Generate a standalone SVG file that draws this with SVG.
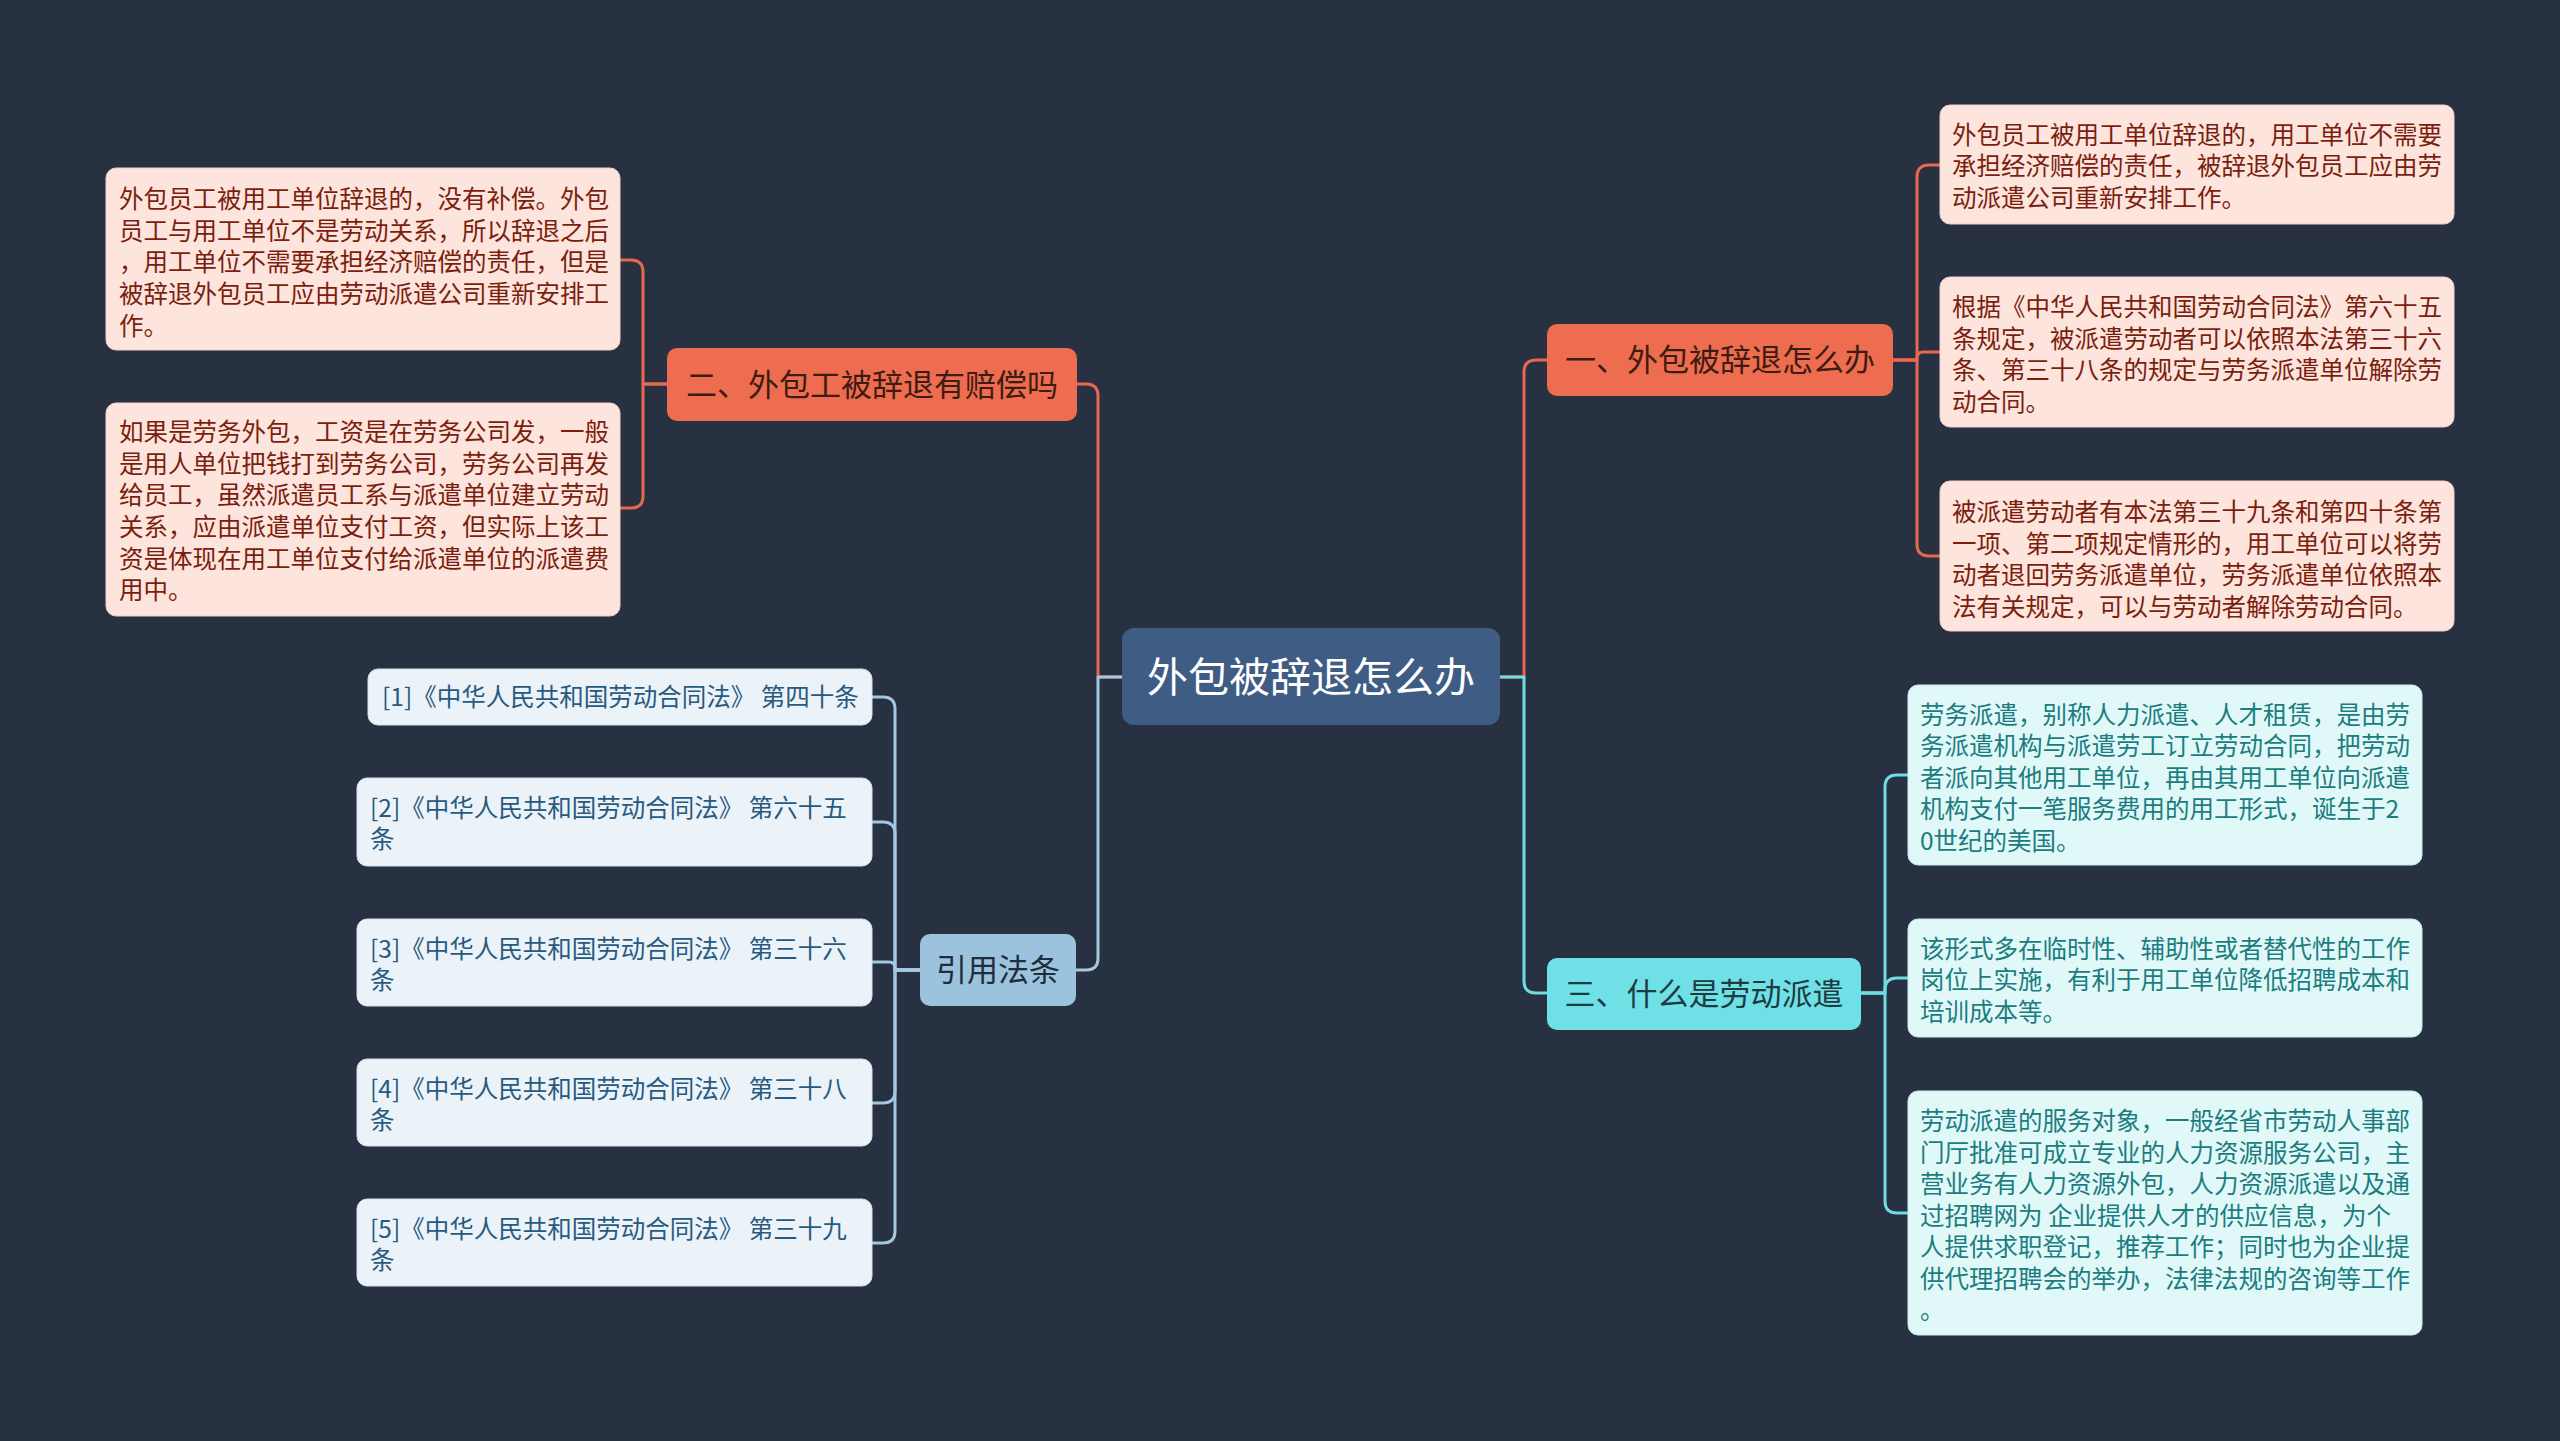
<svg xmlns="http://www.w3.org/2000/svg" width="2560" height="1441" viewBox="0 0 2560 1441">
<style>
text{font-family:"Noto Sans CJK SC","Noto Sans",sans-serif;}
.conn{fill:none;stroke-width:3;stroke-linejoin:round;}
.cr{stroke:#e8694e;}
.cc{stroke:#6ddce3;}
.cb{stroke:#a4c8e1;}
.rootbox{fill:#3f5d84;}
.roott{fill:#ffffff;font-size:41px;text-anchor:middle;}
.rnode{fill:#ee6c4f;}
.rnodet{fill:#3d1c12;font-size:31px;text-anchor:middle;}
.cnode{fill:#6ee0e6;}
.cnodet{fill:#1d3c42;font-size:31px;text-anchor:middle;}
.bnode{fill:#9cc3dd;}
.bnodet{fill:#1f2e3c;font-size:31px;text-anchor:middle;}
.rleaf{fill:#fde4dd;stroke:#f5cfc4;stroke-width:1;}
.rleaft{fill:#7b1e0e;font-size:24.5px;}
.cleaf{fill:#e1f8f8;stroke:#c6eeee;stroke-width:1;}
.cleaft{fill:#1b7d80;font-size:24.5px;}
.bleaf{fill:#ebf3f9;stroke:#d3e3ee;stroke-width:1;}
.bleaft{fill:#285a7f;font-size:24.5px;}
</style>
<rect x="0" y="0" width="2560" height="1441" fill="#283142"/>

<g id="connectors">
  <path class="conn cr" d="M1122,677 H1098 V396 Q1098,384 1086,384 H1077"/>
  <path class="conn cb" d="M1122,677 H1098 V958 Q1098,970 1086,970 H1076"/>
  <path class="conn cr" d="M1500,677 H1524 V372 Q1524,360 1536,360 H1547"/>
  <path class="conn cc" d="M1500,677 H1524 V981 Q1524,993 1536,993 H1547"/>
  <path class="conn cr" d="M667,384 H643 V272 Q643,260 631,260 H620"/>
  <path class="conn cr" d="M667,384 H643 V496 Q643,508 631,508 H620"/>
  <path class="conn cr" d="M1893,360 H1917 V177 Q1917,165 1929,165 H1940"/>
  <path class="conn cr" d="M1893,360 H1917 V358 Q1917,352 1923,352 H1940"/>
  <path class="conn cr" d="M1893,360 H1917 V544 Q1917,556 1929,556 H1940"/>
  <path class="conn cc" d="M1861,993 H1885 V787 Q1885,775 1897,775 H1908"/>
  <path class="conn cc" d="M1861,993 H1885 V990 Q1885,978 1897,978 H1908"/>
  <path class="conn cc" d="M1861,993 H1885 V1201 Q1885,1213 1897,1213 H1908"/>
  <path class="conn cb" d="M920,970 H895 V709 Q895,697 883,697 H872"/>
  <path class="conn cb" d="M920,970 H895 V834 Q895,822 883,822 H872"/>
  <path class="conn cb" d="M920,970 H895 V968 Q895,962 889,962 H872"/>
  <path class="conn cb" d="M920,970 H895 V1091 Q895,1103 883,1103 H872"/>
  <path class="conn cb" d="M920,970 H895 V1231 Q895,1243 883,1243 H872"/>
</g>

<g id="root">
  <rect class="rootbox" x="1122" y="628" width="378" height="97" rx="12"/>
  <text class="roott" x="1311" y="692">外包被辞退怎么办</text>
</g>

<g id="n2">
  <rect class="rnode" x="667" y="348" width="410" height="73" rx="10"/>
  <text class="rnodet" x="872" y="396">二、外包工被辞退有赔偿吗</text>
</g>
<g id="n1">
  <rect class="rnode" x="1547" y="324" width="346" height="72" rx="10"/>
  <text class="rnodet" x="1720" y="371">一、外包被辞退怎么办</text>
</g>
<g id="n3">
  <rect class="cnode" x="1547" y="958" width="314" height="72" rx="10"/>
  <text class="cnodet" x="1704" y="1005">三、什么是劳动派遣</text>
</g>
<g id="nref">
  <rect class="bnode" x="920" y="934" width="156" height="72" rx="10"/>
  <text class="bnodet" x="998" y="981">引用法条</text>
</g>

<g id="leaf2a">
  <rect class="rleaf" x="106" y="168" width="514" height="182" rx="10"/>
  <text class="rleaft" x="119" y="208">外包员工被用工单位辞退的，没有补偿。外包</text>
  <text class="rleaft" x="119" y="240">员工与用工单位不是劳动关系，所以辞退之后</text>
  <text class="rleaft" x="119" y="271">，用工单位不需要承担经济赔偿的责任，但是</text>
  <text class="rleaft" x="119" y="303">被辞退外包员工应由劳动派遣公司重新安排工</text>
  <text class="rleaft" x="119" y="335">作。</text>
</g>
<g id="leaf2b">
  <rect class="rleaf" x="106" y="403" width="514" height="213" rx="10"/>
  <text class="rleaft" x="119" y="441">如果是劳务外包，工资是在劳务公司发，一般</text>
  <text class="rleaft" x="119" y="473">是用人单位把钱打到劳务公司，劳务公司再发</text>
  <text class="rleaft" x="119" y="504">给员工，虽然派遣员工系与派遣单位建立劳动</text>
  <text class="rleaft" x="119" y="536">关系，应由派遣单位支付工资，但实际上该工</text>
  <text class="rleaft" x="119" y="568">资是体现在用工单位支付给派遣单位的派遣费</text>
  <text class="rleaft" x="119" y="599">用中。</text>
</g>

<g id="leaf1a">
  <rect class="rleaf" x="1940" y="105" width="514" height="119" rx="10"/>
  <text class="rleaft" x="1952" y="144">外包员工被用工单位辞退的，用工单位不需要</text>
  <text class="rleaft" x="1952" y="175">承担经济赔偿的责任，被辞退外包员工应由劳</text>
  <text class="rleaft" x="1952" y="207">动派遣公司重新安排工作。</text>
</g>
<g id="leaf1b">
  <rect class="rleaf" x="1940" y="277" width="514" height="150" rx="10"/>
  <text class="rleaft" x="1952" y="316">根据《中华人民共和国劳动合同法》第六十五</text>
  <text class="rleaft" x="1952" y="348">条规定，被派遣劳动者可以依照本法第三十六</text>
  <text class="rleaft" x="1952" y="379">条、第三十八条的规定与劳务派遣单位解除劳</text>
  <text class="rleaft" x="1952" y="411">动合同。</text>
</g>
<g id="leaf1c">
  <rect class="rleaf" x="1940" y="481" width="514" height="150" rx="10"/>
  <text class="rleaft" x="1952" y="521">被派遣劳动者有本法第三十九条和第四十条第</text>
  <text class="rleaft" x="1952" y="553">一项、第二项规定情形的，用工单位可以将劳</text>
  <text class="rleaft" x="1952" y="584">动者退回劳务派遣单位，劳务派遣单位依照本</text>
  <text class="rleaft" x="1952" y="616">法有关规定，可以与劳动者解除劳动合同。</text>
</g>

<g id="leaf3a">
  <rect class="cleaf" x="1908" y="685" width="514" height="180" rx="10"/>
  <text class="cleaft" x="1920" y="724">劳务派遣，别称人力派遣、人才租赁，是由劳</text>
  <text class="cleaft" x="1920" y="755">务派遣机构与派遣劳工订立劳动合同，把劳动</text>
  <text class="cleaft" x="1920" y="787">者派向其他用工单位，再由其用工单位向派遣</text>
  <text class="cleaft" x="1920" y="818">机构支付一笔服务费用的用工形式，诞生于2</text>
  <text class="cleaft" x="1920" y="850">0世纪的美国。</text>
</g>
<g id="leaf3b">
  <rect class="cleaf" x="1908" y="919" width="514" height="118" rx="10"/>
  <text class="cleaft" x="1920" y="958">该形式多在临时性、辅助性或者替代性的工作</text>
  <text class="cleaft" x="1920" y="989">岗位上实施，有利于用工单位降低招聘成本和</text>
  <text class="cleaft" x="1920" y="1021">培训成本等。</text>
</g>
<g id="leaf3c">
  <rect class="cleaf" x="1908" y="1091" width="514" height="244" rx="10"/>
  <text class="cleaft" x="1920" y="1130">劳动派遣的服务对象，一般经省市劳动人事部</text>
  <text class="cleaft" x="1920" y="1162">门厅批准可成立专业的人力资源服务公司，主</text>
  <text class="cleaft" x="1920" y="1193">营业务有人力资源外包，人力资源派遣以及通</text>
  <text class="cleaft" x="1920" y="1225">过招聘网为 企业提供人才的供应信息，为个</text>
  <text class="cleaft" x="1920" y="1256">人提供求职登记，推荐工作；同时也为企业提</text>
  <text class="cleaft" x="1920" y="1288">供代理招聘会的举办，法律法规的咨询等工作</text>
  <text class="cleaft" x="1920" y="1319">。</text>
</g>

<g id="ref1">
  <rect class="bleaf" x="368" y="669" width="504" height="56" rx="10"/>
  <text class="bleaft" x="382" y="706">[1]《中华人民共和国劳动合同法》 第四十条</text>
</g>
<g id="ref2">
  <rect class="bleaf" x="357" y="778" width="515" height="88" rx="10"/>
  <text class="bleaft" x="370" y="817">[2]《中华人民共和国劳动合同法》 第六十五</text>
  <text class="bleaft" x="370" y="848">条</text>
</g>
<g id="ref3">
  <rect class="bleaf" x="357" y="919" width="515" height="87" rx="10"/>
  <text class="bleaft" x="370" y="958">[3]《中华人民共和国劳动合同法》 第三十六</text>
  <text class="bleaft" x="370" y="989">条</text>
</g>
<g id="ref4">
  <rect class="bleaf" x="357" y="1059" width="515" height="87" rx="10"/>
  <text class="bleaft" x="370" y="1098">[4]《中华人民共和国劳动合同法》 第三十八</text>
  <text class="bleaft" x="370" y="1129">条</text>
</g>
<g id="ref5">
  <rect class="bleaf" x="357" y="1199" width="515" height="87" rx="10"/>
  <text class="bleaft" x="370" y="1238">[5]《中华人民共和国劳动合同法》 第三十九</text>
  <text class="bleaft" x="370" y="1269">条</text>
</g>
</svg>
